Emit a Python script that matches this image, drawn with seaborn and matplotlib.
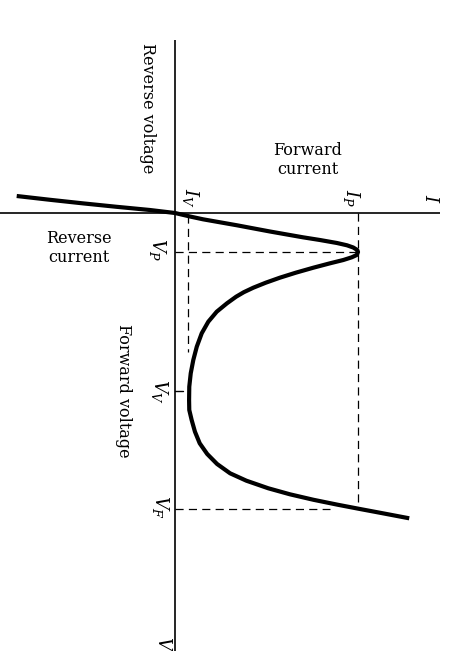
import numpy as np
import pandas as pd
import matplotlib
matplotlib.use("Agg")
import matplotlib.pyplot as plt
import seaborn as sns

# Tunnel-diode I-V characteristic (voltage in mV, current in mA)
voltage_mv = [-34, -26.4, -19.2, -12.4, -6, 0, 7, 12.6, 18.6, 24.6, 30.6, 37,
              43, 48.6, 54, 60, 64.6, 69, 74, 78, 84, 88.6, 94, 100.6, 109.4,
              119.4, 129.4, 139.4, 149.4, 158.4, 167.4, 180.6, 197.4, 217.4,
              240.6, 267.4, 294, 320.6, 347.4, 374, 394, 414, 437.4, 460.6,
              482, 502, 520.6, 535.4, 550.6, 562.6, 573.6, 583.6, 591.6,
              600.6, 610.6]
current_ma = [-8.65, -6.83, -5.01, -3.19, -1.37, 0.0, 0.82, 1.53, 2.46, 3.39,
              4.26, 5.19, 6.12, 6.99, 7.92, 8.85, 9.40, 9.74, 9.96, 10.0,
              9.93, 9.66, 9.20, 8.47, 7.56, 6.60, 5.73, 4.96, 4.28, 3.76,
              3.34, 2.84, 2.28, 1.82, 1.46, 1.19, 1.00, 0.86, 0.78, 0.77,
              0.78, 0.91, 1.09, 1.35, 1.76, 2.30, 3.01, 3.90, 5.10, 6.28,
              7.57, 8.91, 10.05, 11.36, 12.80]

# Characteristic points
I_P = 10.0    # peak current
I_V = 0.73    # valley current
V_P = 78      # peak voltage
V_V = 356     # valley voltage
V_F = 591     # forward voltage at peak current

df = pd.DataFrame({"voltage": voltage_mv, "current": current_ma})

sns.set_style("white")
plt.rcParams["font.family"] = ["DejaVu Serif"]
plt.rcParams["mathtext.fontset"] = "dejavuserif"
plt.rcParams["text.color"] = "black"

XLIM = (-9.563, 15.137)
YLIM = (876, -426)

fig = plt.figure(figsize=(4.52, 6.51), dpi=100)
ax = fig.add_axes([0, 0, 1, 1])

# Coordinate axes: current (horizontal) and voltage (vertical, downward)
ax.plot([-9.6, 14.48], [0, 0], color="black", lw=1.2, solid_capstyle="butt")
ax.plot([0, 0], [-346, 880], color="black", lw=1.2, solid_capstyle="butt")

# Guide lines to the peak, valley and forward points
dash = dict(color="black", lw=0.9, dashes=(6.5, 4.2))
ax.plot([0, I_P], [V_P, V_P], **dash)
ax.plot([I_P, I_P], [0, 580], **dash)
ax.plot([I_V, I_V], [4, 278], **dash)
ax.plot([0, 8.47], [V_F, V_F], **dash)
ax.plot([0, 0.45], [V_V, V_V], color="black", lw=1.0)

# The characteristic curve
sns.lineplot(data=df, x="current", y="voltage", sort=False, estimator=None,
             color="black", lw=3.0, ax=ax)
curve = ax.lines[-1]
curve.set_solid_capstyle("butt")
curve.set_solid_joinstyle("round")
ax.set_xlim(*XLIM)
ax.set_ylim(*YLIM)
ax.axis("off")

fs = 11.5
# Axis captions
ax.text(-1.48, -210, "Reverse voltage", rotation=-90, ha="center",
        va="center", fontsize=fs, color="black")
ax.text(-2.84, 356, "Forward voltage", rotation=-90, ha="center",
        va="center", fontsize=fs, color="black")
ax.text(7.27, -106, "Forward\ncurrent", ha="center", va="center",
        fontsize=fs, linespacing=1.15, color="black")
ax.text(-5.25, 70, "Reverse\ncurrent", ha="center", va="center",
        fontsize=fs, linespacing=1.15, color="black")

# Symbol labels
ms = 13
sym = dict(rotation=-90, ha="center", va="center", fontsize=ms, color="black")
ax.text(0.82, -30, r"$I_V$", **sym)
ax.text(9.67, -30, r"$I_P$", **sym)
ax.text(13.93, -28, r"$I$", **sym)
ax.text(-0.93, V_P - 4, r"$V_P$", **sym)
ax.text(-0.87, V_V + 2, r"$V_V$", **sym)
ax.text(-0.77, V_F - 2, r"$V_F$", **sym)
ax.text(-0.66, 862, r"$V$", **sym)

fig.savefig("out.png", dpi=100, facecolor="white")
